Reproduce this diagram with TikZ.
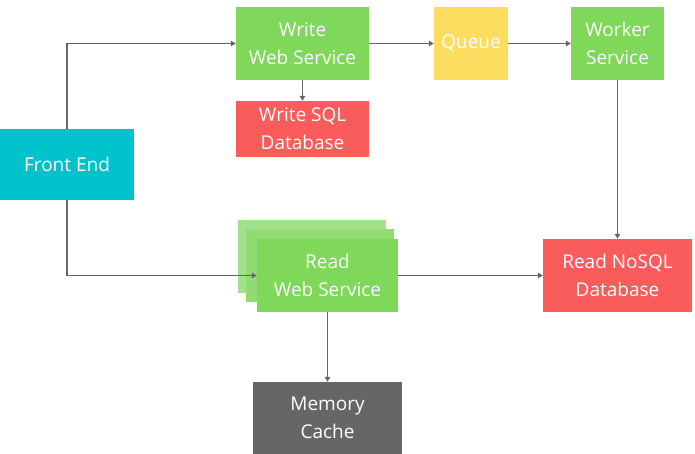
\documentclass[tikz,border=0pt]{standalone}
\usepackage{fontspec}
\setsansfont{Open Sans}
\usetikzlibrary{arrows.meta, positioning}

\definecolor{svcgreen}{HTML}{80D85A}
\definecolor{shadegreenA}{HTML}{A3E08C}
\definecolor{shadegreenB}{HTML}{91DB72}
\definecolor{dbred}{HTML}{FA5C5C}
\definecolor{queueyellow}{HTML}{FDDD60}
\definecolor{frontcyan}{HTML}{00C2CB}
\definecolor{cachegray}{HTML}{666666}
\definecolor{linegray}{HTML}{666666}

\begin{document}
\begin{tikzpicture}[x=1pt, y=-1pt,
    box/.style={inner sep=0pt, align=center, text=white,
        font=\sffamily\fontsize{19}{28}\selectfont},
    link/.style={draw=linegray, line width=1.8pt,
        -{Triangle[length=5pt, width=5.5pt]}}]
    \useasboundingbox (0,0) rectangle (695,454);

    % Write side
    \node[box, fill=frontcyan, minimum width=134pt, minimum height=71pt] (front) at (67,164.5) {Front End};
    \node[box, fill=svcgreen, minimum width=133pt, minimum height=73pt] (writews) at (302.5,43.5) {Write\\Web Service};
    \node[box, fill=dbred, minimum width=133pt, minimum height=56pt] (writesql) at (302.5,129) {Write SQL\\Database};
    \node[box, fill=queueyellow, minimum width=74pt, minimum height=73pt] (queue) at (471,43.5) {Queue};
    \node[box, fill=svcgreen, minimum width=93pt, minimum height=73pt] (worker) at (617.5,43.5) {Worker\\Service};

    % Read side
    \node[fill=shadegreenA, minimum width=148pt, minimum height=73pt] (readback) at (312,256.5) {};
    \node[fill=shadegreenB, minimum width=148pt, minimum height=73pt] (readmid) at (320,265.5) {};
    \node[box, fill=svcgreen, minimum width=141pt, minimum height=73pt] (readws) at (327.5,275.5) {Read\\Web Service};
    \node[box, fill=dbred, minimum width=149pt, minimum height=73pt] (readnosql) at (617.5,275.5) {Read NoSQL\\Database};
    \node[box, fill=cachegray, minimum width=149pt, minimum height=72pt] (cache) at (327.5,418) {Memory\\Cache};

    % Connectors
    \draw[link] (front.north) |- (writews.west);
    \draw[link] (writews.east) -- (queue.west);
    \draw[link] (queue.east) -- (worker.west);
    \draw[link] (writews.south) -- (writesql.north);
    \draw[link] (worker.south) -- (readnosql.north);
    \draw[link] (front.south) |- (readws.west);
    \draw[link] (readws.east) -- (readnosql.west);
    \draw[link] (readws.south) -- (cache.north);
\end{tikzpicture}
\end{document}
